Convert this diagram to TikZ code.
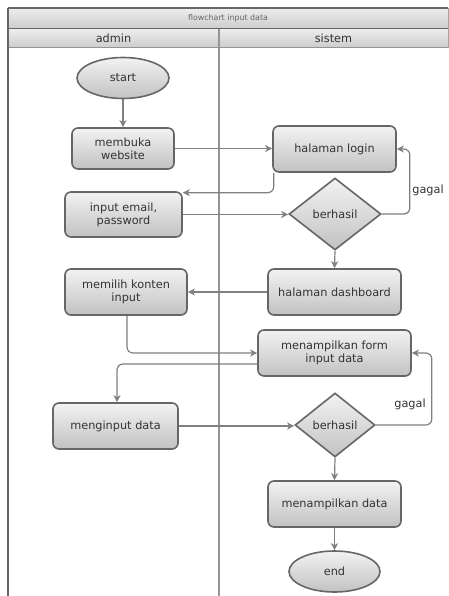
\documentclass[tikz,border=0pt]{standalone}
\usepackage{fontspec}
\setmainfont{DejaVu Sans}
\usetikzlibrary{shapes.geometric,arrows.meta}
\definecolor{strokec}{HTML}{666666}
\definecolor{linec}{HTML}{808080}
\definecolor{textc}{HTML}{333333}
\tikzset{
  box/.style={draw=strokec, line width=1.6pt, rounded corners=6pt, top color=white!95!black, bottom color=white!76!black, text=textc, font=\fontsize{11.3}{13}\selectfont, align=center, inner sep=0pt},
  term/.style={draw=strokec, line width=1.6pt, ellipse, top color=white!95!black, bottom color=white!76!black, text=textc, font=\fontsize{11.3}{13}\selectfont, inner sep=0pt},
  dec/.style={draw=strokec, line width=1.6pt, diamond, top color=white!95!black, bottom color=white!76!black, text=textc, font=\fontsize{11.3}{13}\selectfont, inner sep=0pt},
  conn/.style={draw=linec, line width=1.2pt, -{Stealth[length=7pt,width=7pt,inset=2pt]}, rounded corners=6pt},
  hdr/.style={draw=none, top color=white!93!black, bottom color=white!80!black},
  lbl/.style={text=textc, font=\fontsize{11.3}{13}\selectfont, inner sep=0pt}
}
\begin{document}
\begin{tikzpicture}[x=1pt,y=-1pt]
\useasboundingbox (0,0) rectangle (449,596);
% headers
\fill[hdr] (8,8) rectangle (448,29);
\fill[hdr] (8,29) rectangle (448,48);
\draw[strokec, line width=1.2pt] (8,8) -- (448,8);
\draw[strokec, line width=1pt] (8,29) -- (448,29);
\draw[strokec!70, line width=1pt] (8,48) -- (448,48);
\draw[strokec!60, line width=0.6pt] (448,8) -- (448,48);
\draw[strokec, line width=1.4pt] (8,8) -- (8,596);
\draw[strokec!70, line width=1.2pt] (219,29) -- (219,596);
\node[text=strokec, font=\fontsize{7.9}{9}\selectfont, inner sep=0pt] (title) at (228,18.5) {flowchart input data};
\node[text=textc, font=\fontsize{11.3}{13}\selectfont, inner sep=0pt] (laneA) at (113.5,38.5) {admin};
\node[text=textc, font=\fontsize{11.3}{13}\selectfont, inner sep=0pt] (laneB) at (333.5,38.5) {sistem};
% nodes
\node[term, minimum width=92pt, minimum height=41pt] (start) at (123,78) {start};
\node[box, minimum width=102pt, minimum height=41pt] (buka) at (123,148.5) {membuka\\website};
\node[box, minimum width=123pt, minimum height=46pt] (login) at (334.5,149) {halaman login};
\node[box, minimum width=117pt, minimum height=45pt] (input) at (123.5,214.5) {input email,\\password};
\node[dec, minimum width=92pt, minimum height=72pt] (b1) at (335,214) {berhasil};
\node[box, minimum width=133pt, minimum height=46pt] (dash) at (334.5,292) {halaman dashboard};
\node[box, minimum width=122pt, minimum height=46pt] (pilih) at (126,292) {memilih konten\\input};
\node[box, minimum width=153pt, minimum height=46pt] (form) at (334.5,353) {menampilkan form\\input data};
\node[box, minimum width=125pt, minimum height=46pt] (ginput) at (115.5,426) {menginput data};
\node[dec, minimum width=80pt, minimum height=64pt] (b2) at (335,425) {berhasil};
\node[box, minimum width=133pt, minimum height=46pt] (tampil) at (334.5,504) {menampilkan data};
\node[term, minimum width=91pt, minimum height=41pt] (end) at (334.5,571.5) {end};
\node[lbl] (g1) at (428,190) {gagal};
\node[lbl] (g2) at (410,404) {gagal};
% connectors
\draw[conn] (start) -- (buka);
\draw[conn] (buka.east) -- (buka.east -| login.west);
\draw[conn] ([xshift=1.5pt]login.south west) |- ([yshift=-1.5pt]input.north east);
\draw[conn] (input.east) -- (input.east -| b1.west);
\draw[conn] (b1.east) -- ++(28,0) |- (login.east);
\draw[conn] (b1.south) -- (dash.north);
\draw[conn] (dash.west) -- (dash.west -| pilih.east);
\draw[conn] ([xshift=1pt]pilih.south) |- (form.west);
\draw[conn] ([yshift=-11pt]form.west) -| ([xshift=1.5pt]ginput.north);
\draw[conn] (ginput.east) -- (ginput.east -| b2.west);
\draw[conn] (b2.east) -- ++(56,0) |- (form.east);
\draw[conn] (b2.south) -- (tampil.north);
\draw[conn] (tampil.south) -- (end.north);
\end{tikzpicture}
\end{document}
